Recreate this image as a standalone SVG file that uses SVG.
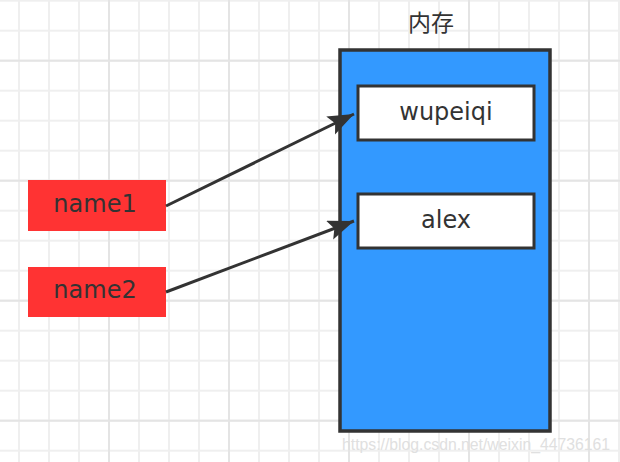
<svg xmlns="http://www.w3.org/2000/svg" width="620" height="462" viewBox="0 0 620 462">
<style>
.minor{stroke:#efefef;stroke-width:2}
.major{stroke:#e4e4e4;stroke-width:2}
.lbl{font-family:"DejaVu Sans","Liberation Sans",sans-serif;font-size:24px;fill:#333;text-anchor:middle}
.conn{stroke:#333;stroke-width:3;fill:none}
.box{fill:#fff;stroke:#333;stroke-width:3}
.var{fill:#ff3333}
</style>
<defs>
<marker id="ah" markerUnits="userSpaceOnUse" markerWidth="28" markerHeight="22" refX="26" refY="10" orient="auto">
<path d="M0,0 L26,10 L0,20 L5,10 z" fill="#333"/>
</marker>
<pattern id="gmin" width="30" height="30" patternUnits="userSpaceOnUse" x="4" y="-14.3">
<path d="M15,0 V30 M0,15 H30" class="minor"/>
</pattern>
<pattern id="gmaj" width="120" height="120" patternUnits="userSpaceOnUse" x="49" y="0.7">
<path d="M60,0 V120 M0,60 H120" class="major"/>
</pattern>
</defs>
<rect width="620" height="462" fill="#fff"/>
<rect width="620" height="462" fill="url(#gmin)"/>
<rect width="620" height="462" fill="url(#gmaj)"/>
<g id="memory">
<rect x="340" y="50" width="210" height="381" fill="#3399ff" stroke="#333" stroke-width="3.5"/>
<text x="431" y="31" style="font-family:'Noto Sans CJK SC',sans-serif;font-size:23px;fill:#333;text-anchor:middle">内存</text>
</g>
<g id="wupeiqi">
<rect class="box" x="358" y="86" width="176" height="54"/>
<text class="lbl" x="446" y="120">wupeiqi</text>
</g>
<g id="alex">
<rect class="box" x="358" y="194" width="176" height="54"/>
<text class="lbl" x="446" y="228">alex</text>
</g>
<g id="name1">
<rect class="var" x="28" y="180" width="138" height="51"/>
<text class="lbl" x="95" y="212">name1</text>
</g>
<g id="name2">
<rect class="var" x="28" y="267" width="138" height="50"/>
<text class="lbl" x="95" y="298">name2</text>
</g>
<g id="connectors">
<line class="conn" x1="166" y1="206" x2="354" y2="114" marker-end="url(#ah)"/>
<line class="conn" x1="166" y1="292" x2="354" y2="221" marker-end="url(#ah)"/>
</g>
<text x="342" y="450" textLength="268" lengthAdjust="spacingAndGlyphs" style="font-family:'Liberation Sans',sans-serif;font-size:16px;fill:#e0e0e0">https://blog.csdn.net/weixin_44736161</text>
</svg>
